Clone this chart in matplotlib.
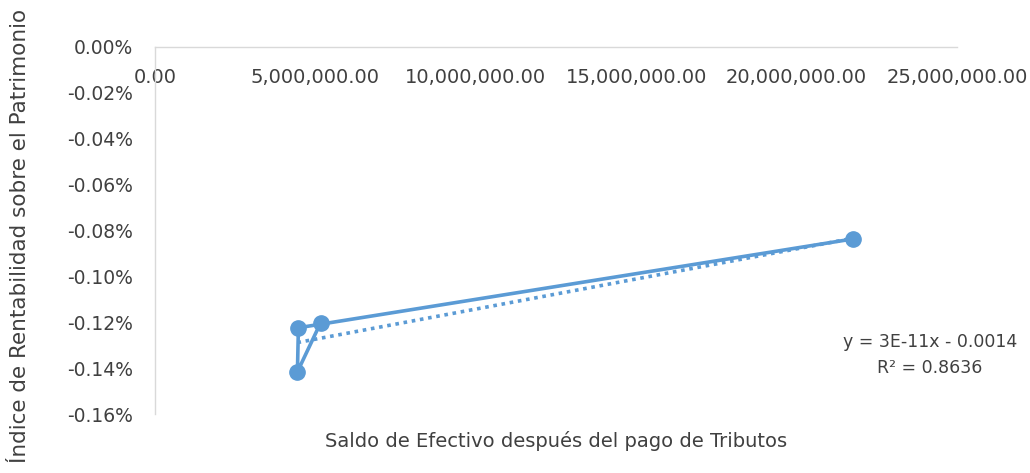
import matplotlib
matplotlib.use("Agg")
import matplotlib.pyplot as plt
import numpy as np
from matplotlib.ticker import FuncFormatter

# Data (x: Saldo de efectivo, y: rentabilidad as fraction)
saldo = [21750000, 4470000, 4440000, 5160000]
rentabilidad = [-0.000837, -0.001224, -0.001416, -0.001203]
x_ticks = [0, 5000000, 10000000, 15000000, 20000000, 25000000]
y_ticks = [0.0, -0.0002, -0.0004, -0.0006, -0.0008, -0.0010, -0.0012, -0.0014, -0.0016]
equation_text = "y = 3E-11x - 0.0014"
r2_text = "R² = 0.8636"

color = "#5B9BD5"
txt = "#404040"
plt.rcParams['font.family'] = ['DejaVu Sans']

fig = plt.figure(figsize=(10.30, 4.73), dpi=100)
ax = fig.add_axes([155/1030, 1-414/473, (957-155)/1030, (414-47)/473])

ax.plot(saldo, rentabilidad, color=color, lw=2.6, marker='o', ms=11, zorder=3)

# linear trendline
xs = np.array(saldo, dtype=float)
ys = np.array(rentabilidad, dtype=float)
m, b = np.polyfit(xs, ys, 1)
xl = np.array([xs.min(), xs.max()])
ax.plot(xl, m*xl + b, color=color, lw=2.6, ls=(0, (1, 1.3)), zorder=2)

ax.set_xlim(0, 25000000)
ax.set_ylim(-0.0016, 0)
ax.set_xticks(x_ticks)
ax.set_yticks(y_ticks)
ax.xaxis.set_major_formatter(FuncFormatter(lambda v, p: f"{v:,.2f}"))
ax.yaxis.set_major_formatter(FuncFormatter(lambda v, p: f"{v*100:.2f}%"))

for s in ['right', 'bottom']:
    ax.spines[s].set_visible(False)
for s in ['top', 'left']:
    ax.spines[s].set_color('#d9d9d9')
    ax.spines[s].set_linewidth(1)

ax.tick_params(axis='x', which='both', length=0, labelsize=14, colors=txt,
               top=False, bottom=False, labeltop=True, labelbottom=False, pad=-29)
ax.tick_params(axis='y', which='both', length=0, labelsize=13.5, colors=txt, pad=16)

ax.text(0.5, -0.045, "Saldo de Efectivo después del pago de Tributos", transform=ax.transAxes,
        ha='center', va='top', fontsize=14, color=txt)
fig.text(20/1030, 1-236/473, "Índice de Rentabilidad sobre el Patrimonio", rotation=90,
         ha='center', va='center', fontsize=15.5, color=txt)

fig.text(930/1030, 1-342/473, equation_text, ha='center', va='center', fontsize=12.5, color=txt)
fig.text(930/1030, 1-368/473, r2_text, ha='center', va='center', fontsize=12.5, color=txt)

fig.savefig("out.png", dpi=100)
